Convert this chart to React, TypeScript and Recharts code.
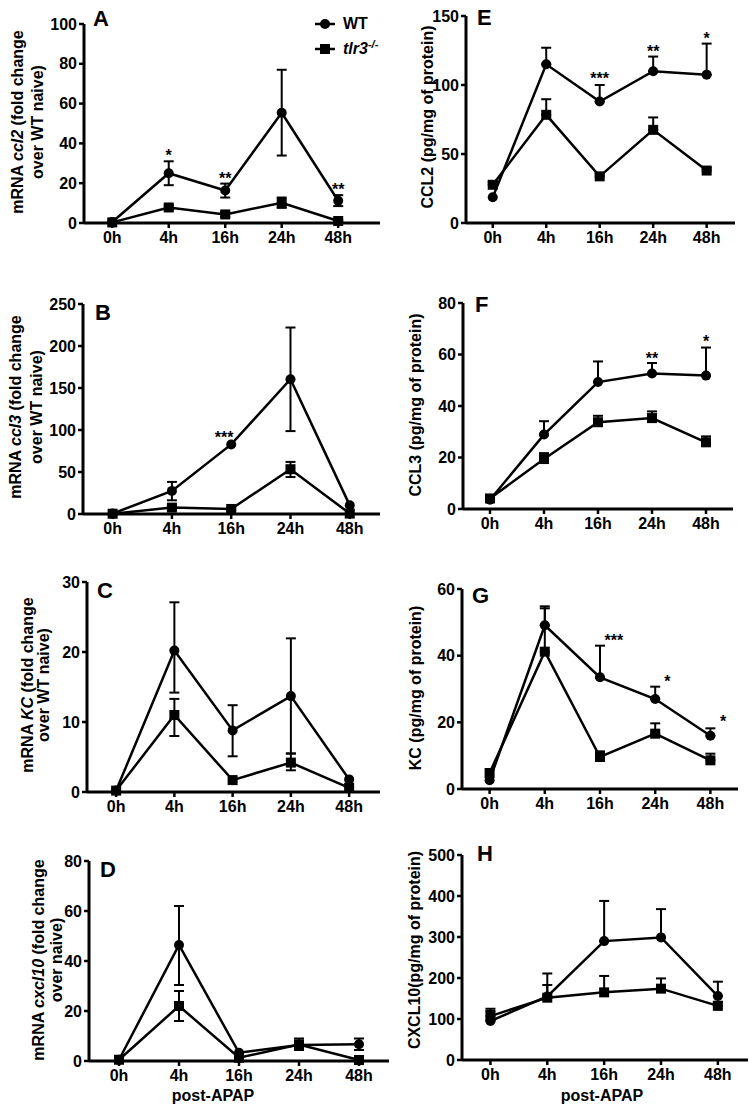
import React from 'react';
import { LineChart, Line, XAxis, YAxis, ErrorBar, ReferenceDot, Legend } from 'recharts';

const FONT = '"Liberation Sans", Arial, Helvetica, sans-serif';
const INK = '#000';

const times = ['0h', '4h', '16h', '24h', '48h'];

type Err = number[] | null;

// A: mRNA ccl2
const aWt = [0.5, 25, 16.3, 55.4, 11.2];
const aWtErr: Err[] = [null, [6, 6], [3.5, 3.5], [21.5, 21.6], [2.7, 2.8]];
const aKo = [0.3, 7.8, 4.3, 10.2, 1];
const aKoErr: Err[] = [null, [1, 1], [1.2, 1.2], [2.6, 2.6], [0.6, 0.6]];
const aStarX = [1, 2, 4];
const aStarY = [35.8, 24.1, 18.6];
const aStarText = ['*', '**', '**'];

// B: mRNA ccl3
const bWt = [0.5, 27.5, 82.8, 160.4, 10.3];
const bWtErr: Err[] = [null, [11.2, 10.7], null, [61.7, 61.6], null];
const bKo = [0.3, 7.6, 6, 53.3, 0.5];
const bKoErr: Err[] = [null, [2, 2], [1.5, 1.5], [9.3, 8.7], null];
const bStarX = [1.88];
const bStarY = [95];
const bStarText = ['***'];

// C: mRNA KC
const cWt = [0.2, 20.2, 8.8, 13.7, 1.8];
const cWtErr: Err[] = [null, [6, 6.9], [3.7, 3.6], [8.2, 8.25], null];
const cKo = [0.2, 11, 1.7, 4.2, 0.6];
const cKoErr: Err[] = [null, [3, 2.3], null, [1.1, 1.3], null];

// D: mRNA cxcl10
const dWt = [0.5, 46.4, 3.3, 6.4, 6.7];
const dWtErr: Err[] = [null, [16, 15.6], null, [2, 2.6], [2.3, 2.3]];
const dKo = [0.5, 22, 1.3, 6.6, 0.4];
const dKoErr: Err[] = [null, [6, 6], null, [1.5, 1.5], null];

// E: CCL2 protein
const eWt = [18.6, 115, 88, 110, 107.5];
const eWtErr: Err[] = [null, [0, 12], [0, 12], [0, 10.6], [0, 22.5]];
const eKo = [27.7, 78.4, 33.8, 67.5, 38];
const eKoErr: Err[] = [[0, 2], [0, 11.3], [0, 2], [0, 9], [0, 2]];
const eStarX = [2, 3, 4];
const eStarY = [107, 127, 136];
const eStarText = ['***', '**', '*'];

// F: CCL3 protein
const fWt = [3.6, 28.9, 49.3, 52.6, 51.8];
const fWtErr: Err[] = [null, [0, 5.2], [0, 8], [0, 4.1], [0, 10.9]];
const fKo = [4.1, 19.4, 33.7, 35.3, 25.9];
const fKoErr: Err[] = [null, [0, 2.3], [0, 2.5], [0, 2.6], [0, 2.3]];
const fStarX = [3, 4];
const fStarY = [59.8, 66.4];
const fStarText = ['**', '*'];

// G: KC protein
const gWt = [2.6, 49.1, 33.5, 27, 16];
const gWtErr: Err[] = [null, [0, 5.7], [0, 9.5], [0, 3.7], [0, 2.2]];
const gKo = [4.8, 41.2, 9.6, 16.6, 8.6];
const gKoErr: Err[] = [null, [0, 13], [0, 1.7], [0, 3.1], [0, 2]];
const gStarX = [2.25, 3.22, 4.23];
const gStarY = [45.5, 33.4, 21.2];
const gStarText = ['***', '*', '*'];

// H: CXCL10 protein
const hWt = [95, 155, 290, 299, 156];
const hWtErr: Err[] = [[0, 25], [0, 56], [0, 98], [0, 69], [0, 35]];
const hKo = [107, 152, 165, 174, 132];
const hKoErr: Err[] = [[0, 18], [0, 31], [0, 40], [0, 25], [0, 10]];

type Seg = { t: string; i?: boolean };

interface PanelProps {
  box: [number, number, number, number]; // left, top, width, height
  plot: [number, number, number, number]; // x0, xEnd, yTop, yZero
  xMax: number;
  yMax: number;
  yTicks: number[];
  wt: number[];
  wtErr: Err[];
  ko: number[];
  koErr: Err[];
  starX?: number[];
  starY?: number[];
  starText?: string[];
  letter: string;
  letterPos: [number, number];
  yLines: Seg[][];
  yLineX: number[];
  yMid: number;
  xTitle?: [number, number];
  legend?: boolean;
}

function Square(props: any) {
  const { cx, cy, index } = props;
  if (cx == null || cy == null) return <g key={`sq-${index}`} />;
  return <rect key={`sq-${index}`} x={cx - 5} y={cy - 5} width={10} height={10} fill={INK} />;
}

function LegendBox() {
  return (
    <div style={{ fontFamily: FONT, fontWeight: 700, fontSize: 16, color: INK }}>
      <div style={{ display: 'flex', alignItems: 'center', height: 25 }}>
        <svg width={20} height={12}>
          <line x1={0} y1={6} x2={20} y2={6} stroke={INK} strokeWidth={2.5} />
          <circle cx={10} cy={6} r={5} fill={INK} />
        </svg>
        <span style={{ marginLeft: 8 }}>WT</span>
      </div>
      <div style={{ display: 'flex', alignItems: 'center', height: 25 }}>
        <svg width={20} height={12}>
          <line x1={0} y1={6} x2={20} y2={6} stroke={INK} strokeWidth={2.5} />
          <rect x={5} y={1} width={10} height={10} fill={INK} />
        </svg>
        <span style={{ marginLeft: 8, fontStyle: 'italic' }}>
          tlr3<sup style={{ fontSize: 11, lineHeight: 0 }}>-/-</sup>
        </span>
      </div>
    </div>
  );
}

function Panel(p: PanelProps) {
  const [left, top, width, height] = p.box;
  const [x0, xEnd, yTop, yZero] = p.plot;
  const data = times.map((t, i) => ({
    x: i,
    wt: p.wt[i],
    wtErr: p.wtErr[i],
    ko: p.ko[i],
    koErr: p.koErr[i],
  }));
  const stars = (p.starX || []).map((x, i) => ({ x, y: p.starY![i], text: p.starText![i] }));

  const texts = () => (
    <g fontFamily={FONT} fontWeight={700} fill={INK}>
      <text x={p.letterPos[0] - left} y={p.letterPos[1] - top} fontSize={22}>
        {p.letter}
      </text>
      {p.yLines.map((segs, k) => {
        const cx = p.yLineX[k] - left;
        const cy = p.yMid - top;
        return (
          <text
            key={k}
            transform={`translate(${cx},${cy}) rotate(-90)`}
            textAnchor="middle"
            dominantBaseline="central"
            fontSize={16}
          >
            {segs.map((s, j) => (
              <tspan key={j} fontStyle={s.i ? 'italic' : 'normal'}>
                {s.t}
              </tspan>
            ))}
          </text>
        );
      })}
      {p.xTitle && (
        <text
          x={p.xTitle[0] - left}
          y={p.xTitle[1] - top}
          textAnchor="middle"
          dominantBaseline="central"
          fontSize={16}
        >
          post-APAP
        </text>
      )}
    </g>
  );

  const tickStyle = { fill: INK, fontSize: 16, fontWeight: 700, fontFamily: FONT };

  return (
    <div style={{ position: 'absolute', left, top, width, height }}>
      <LineChart
        width={width}
        height={height}
        data={data}
        margin={{ top: yTop - top, right: left + width - xEnd, left: 0, bottom: 0 }}
      >
        <XAxis
          dataKey="x"
          type="number"
          domain={[-0.5, p.xMax]}
          ticks={[0, 1, 2, 3, 4]}
          tickFormatter={(v: number) => times[v] ?? ''}
          interval={0}
          allowDataOverflow
          height={top + height - yZero}
          axisLine={{ stroke: INK, strokeWidth: 3 }}
          tickLine={{ stroke: INK, strokeWidth: 2.5 }}
          tickSize={5}
          tickMargin={4}
          tick={tickStyle}
        />
        <YAxis
          type="number"
          domain={[0, p.yMax]}
          ticks={p.yTicks}
          interval={0}
          width={x0 - left}
          axisLine={{ stroke: INK, strokeWidth: 3 }}
          tickLine={{ stroke: INK, strokeWidth: 2.5 }}
          tickSize={5}
          tickMargin={2}
          tick={tickStyle}
          label={texts}
        />
        {p.legend && (
          <Legend
            layout="vertical"
            align="center"
            verticalAlign="middle"
            wrapperStyle={{ left: 315 - left, top: 11 - top, width: 70 }}
            content={() => <LegendBox />}
          />
        )}
        <Line
          dataKey="ko"
          type="linear"
          stroke={INK}
          strokeWidth={2.5}
          dot={Square}
          activeDot={false}
          isAnimationActive={false}
        >
          <ErrorBar dataKey="koErr" width={5} stroke={INK} strokeWidth={2} direction="y" isAnimationActive={false} />
        </Line>
        <Line
          dataKey="wt"
          type="linear"
          stroke={INK}
          strokeWidth={2.5}
          dot={{ r: 5, fill: INK, stroke: INK, strokeWidth: 0 }}
          activeDot={false}
          isAnimationActive={false}
        >
          <ErrorBar dataKey="wtErr" width={5} stroke={INK} strokeWidth={2} direction="y" isAnimationActive={false} />
        </Line>
        {stars.map((s, k) => (
          <ReferenceDot
            key={k}
            x={s.x}
            y={s.y}
            r={0}
            ifOverflow="visible"
            label={(lp: any) => {
              const vb = lp.viewBox || {};
              const cx = (vb.x ?? 0) + (vb.width ?? 0) / 2;
              const cy = (vb.y ?? 0) + (vb.height ?? 0) / 2;
              return (
                <text
                  x={cx}
                  y={cy + 9}
                  textAnchor="middle"
                  fontFamily={FONT}
                  fontWeight={700}
                  fontSize={16}
                  fill={INK}
                >
                  {s.text}
                </text>
              );
            }}
          />
        ))}
      </LineChart>
    </div>
  );
}

export default function App() {
  return (
    <div
      style={{
        position: 'absolute',
        left: 0,
        top: 0,
        width: 753,
        height: 1118,
        background: '#fff',
        fontFamily: FONT,
      }}
    >
      <Panel
        box={[0, 0, 380, 270]}
        plot={[84, 380, 24, 223]}
        xMax={4.74}
        yMax={100}
        yTicks={[0, 20, 40, 60, 80, 100]}
        wt={aWt}
        wtErr={aWtErr}
        ko={aKo}
        koErr={aKoErr}
        starX={aStarX}
        starY={aStarY}
        starText={aStarText}
        letter="A"
        letterPos={[93, 26]}
        yLines={[[{ t: 'mRNA ' }, { t: 'ccl2', i: true }, { t: ' (fold change' }], [{ t: 'over WT naive)' }]]}
        yLineX={[17, 37]}
        yMid={122}
        legend
      />
      <Panel
        box={[0, 270, 380, 280]}
        plot={[83, 380, 304, 514]}
        xMax={4.51}
        yMax={250}
        yTicks={[0, 50, 100, 150, 200, 250]}
        wt={bWt}
        wtErr={bWtErr}
        ko={bKo}
        koErr={bKoErr}
        starX={bStarX}
        starY={bStarY}
        starText={bStarText}
        letter="B"
        letterPos={[95, 320]}
        yLines={[[{ t: 'mRNA ' }, { t: 'ccl3', i: true }, { t: ' (fold change' }], [{ t: 'over WT naive)' }]]}
        yLineX={[15, 36]}
        yMid={407}
      />
      <Panel
        box={[0, 550, 380, 280]}
        plot={[87, 380, 582, 792]}
        xMax={4.53}
        yMax={30}
        yTicks={[0, 10, 20, 30]}
        wt={cWt}
        wtErr={cWtErr}
        ko={cKo}
        koErr={cKoErr}
        letter="C"
        letterPos={[97, 598]}
        yLines={[[{ t: 'mRNA ' }, { t: 'KC', i: true }, { t: ' (fold change' }], [{ t: 'over WT naive)' }]]}
        yLineX={[27, 43]}
        yMid={685}
      />
      <Panel
        box={[0, 830, 392, 288]}
        plot={[89, 389, 861, 1061]}
        xMax={4.5}
        yMax={80}
        yTicks={[0, 20, 40, 60, 80]}
        wt={dWt}
        wtErr={dWtErr}
        ko={dKo}
        koErr={dKoErr}
        letter="D"
        letterPos={[100, 877]}
        yLines={[[{ t: 'mRNA ' }, { t: 'cxcl10', i: true }, { t: ' (fold change' }], [{ t: 'over naive)' }]]}
        yLineX={[38, 56]}
        yMid={960}
        xTitle={[213, 1095]}
      />
      <Panel
        box={[380, 0, 373, 270]}
        plot={[466, 735, 16, 223]}
        xMax={4.53}
        yMax={150}
        yTicks={[0, 50, 100, 150]}
        wt={eWt}
        wtErr={eWtErr}
        ko={eKo}
        koErr={eKoErr}
        starX={eStarX}
        starY={eStarY}
        starText={eStarText}
        letter="E"
        letterPos={[477, 25]}
        yLines={[[{ t: 'CCL2 (pg/mg of protein)' }]]}
        yLineX={[427]}
        yMid={117}
      />
      <Panel
        box={[380, 270, 373, 280]}
        plot={[463, 733, 303, 509]}
        xMax={4.5}
        yMax={80}
        yTicks={[0, 20, 40, 60, 80]}
        wt={fWt}
        wtErr={fWtErr}
        ko={fKo}
        koErr={fKoErr}
        starX={fStarX}
        starY={fStarY}
        starText={fStarText}
        letter="F"
        letterPos={[475, 312]}
        yLines={[[{ t: 'CCL3 (pg/mg of protein)' }]]}
        yLineX={[415]}
        yMid={405}
      />
      <Panel
        box={[380, 550, 373, 280]}
        plot={[462, 738, 589, 789]}
        xMax={4.5}
        yMax={60}
        yTicks={[0, 20, 40, 60]}
        wt={gWt}
        wtErr={gWtErr}
        ko={gKo}
        koErr={gKoErr}
        starX={gStarX}
        starY={gStarY}
        starText={gStarText}
        letter="G"
        letterPos={[472, 603]}
        yLines={[[{ t: 'KC (pg/mg of protein)' }]]}
        yLineX={[415]}
        yMid={688}
      />
      <Panel
        box={[380, 830, 373, 288]}
        plot={[462, 748, 855, 1060]}
        xMax={4.53}
        yMax={500}
        yTicks={[0, 100, 200, 300, 400, 500]}
        wt={hWt}
        wtErr={hWtErr}
        ko={hKo}
        koErr={hKoErr}
        letter="H"
        letterPos={[477, 861]}
        yLines={[[{ t: 'CXCL10(pg/mg of protein)' }]]}
        yLineX={[414]}
        yMid={950}
        xTitle={[602, 1095]}
      />
    </div>
  );
}
